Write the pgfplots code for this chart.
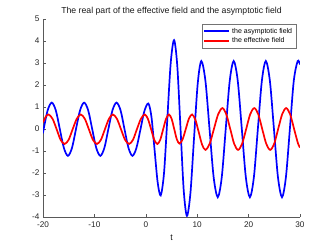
\documentclass[border=0pt]{standalone}
\usepackage{fontspec}
\setmainfont{Liberation Sans}
\usepackage{pgfplots}
\pgfplotsset{compat=1.18}
\begin{document}
\begin{tikzpicture}
\useasboundingbox (-43pt,-28pt) rectangle (289pt,217pt);
\begin{axis}[
  scale only axis, width=257pt, height=198pt,
  at={(0,0)}, anchor=south west,
  xmin=-20, xmax=30, ymin=-4, ymax=5,
  axis lines=left,
  axis line style={black!65, -},
  tick style={black!65, line width=0.4pt},
  major tick length=3pt,
  tick align=inside,
  xtick={-20,-10,...,30}, ytick={-4,-3,...,5},
  ticklabel style={font=\fontsize{8.2}{9}\selectfont, text=black!85},
  xticklabel style={yshift=-1pt},
  /pgf/number format/assume math mode=true,
  title={The real part of the effective field and the asymptotic field},
  title style={font=\fontsize{8.7}{10}\selectfont, text=black!90, yshift=-5.5pt},
  xlabel={t}, xlabel style={font=\fontsize{8.7}{10}\selectfont, text=black!90, yshift=-1pt},
  legend style={at={(0.985,0.975)}, anchor=north east,
    font=\fontsize{7}{8}\selectfont, draw=black!55, inner sep=1.8pt,
    row sep=-1pt, cells={anchor=west}},
  legend image code/.code={\draw[#1] (0pt,0pt) -- (25pt,0pt);},
]
\addplot[blue, line width=1.7pt, smooth] coordinates {
(-20,-0.20) (-19.87,0) (-19.09,0.85) (-18.3,1.20) (-17.51,0.85) (-16.73,0) (-15.94,-0.86) (-15.15,-1.22) (-14.36,-0.86) (-13.58,0) (-12.79,0.85) (-12.0,1.20) (-11.21,0.85) (-10.43,0) (-9.64,-0.86) (-8.85,-1.22) (-8.06,-0.86) (-7.28,0) (-6.49,0.85) (-5.7,1.20) (-4.91,0.85) (-4.15,0) (-3.37,-0.86) (-2.6,-1.22)
(-1.83,-0.87) (-1.05,-0.03) (-0.28,0.81) (0.5,1.16)
(1.1,0.55) (1.7,-0.93) (2.3,-2.41) (2.9,-3.02)
(3.55,-1.99) (4.2,0.51) (4.85,3.01) (5.5,4.04)
(6.125,2.87) (6.75,0.05) (7.375,-2.78) (8.0,-3.95)
(8.68,-2.92) (9.38,-0.43) (10.1,2.06) (10.8,3.09)
(11.6,2.19) (12.4,0) (13.2,-2.19) (14.0,-3.10)
(14.78,-2.19) (15.55,0) (16.33,2.19) (17.1,3.09)
(17.89,2.19) (18.68,0) (19.46,-2.19) (20.25,-3.10)
(21.03,-2.19) (21.8,0) (22.58,2.19) (23.35,3.09)
(24.14,2.19) (24.93,0) (25.71,-2.19) (26.5,-3.10)
(27.26,-2.19) (28.03,0) (28.79,2.19) (29.55,3.09)
(30,2.93)
};
\addlegendentry{the asymptotic field}
\addplot[red, line width=1.7pt, smooth] coordinates {
(-20,0.30) (-19.45,0.56) (-18.9,0.66)
(-18.13,0.46) (-17.35,-0.01) (-16.58,-0.49) (-15.8,-0.68)
(-15.01,-0.49) (-14.23,-0.01) (-13.44,0.46) (-12.65,0.66)
(-11.86,0.46) (-11.08,-0.01) (-10.29,-0.49) (-9.5,-0.68)
(-8.73,-0.49) (-7.95,-0.01) (-7.18,0.46) (-6.4,0.66)
(-5.61,0.46) (-4.83,-0.01) (-4.04,-0.49) (-3.25,-0.68)
(-2.49,-0.49) (-1.73,-0.01) (-0.96,0.46) (-0.2,0.66)
(0.41,0.46) (1.03,-0.01) (1.64,-0.49) (2.25,-0.68)
(2.81,-0.49) (3.38,-0.01) (3.94,0.46) (4.5,0.66)
(5.01,0.47) (5.53,0) (6.04,-0.47) (6.55,-0.66)
(7.16,-0.47) (7.78,0) (8.39,0.47) (9.0,0.66)
(9.65,0.42) (10.3,-0.145) (10.95,-0.71) (11.6,-0.95)
(12.43,-0.67) (13.25,0) (14.08,0.67) (14.9,0.95)
(15.66,0.67) (16.43,0) (17.19,-0.67) (17.95,-0.95)
(18.74,-0.67) (19.53,0) (20.31,0.67) (21.1,0.95)
(21.88,0.67) (22.65,0) (23.43,-0.67) (24.2,-0.95)
(24.98,-0.67) (25.75,0) (26.53,0.67) (27.3,0.95)
(28.08,0.67) (28.85,0) (29.63,-0.67) (30,-0.84)
};
\addlegendentry{the effective field}
\end{axis}
\end{tikzpicture}
\end{document}
